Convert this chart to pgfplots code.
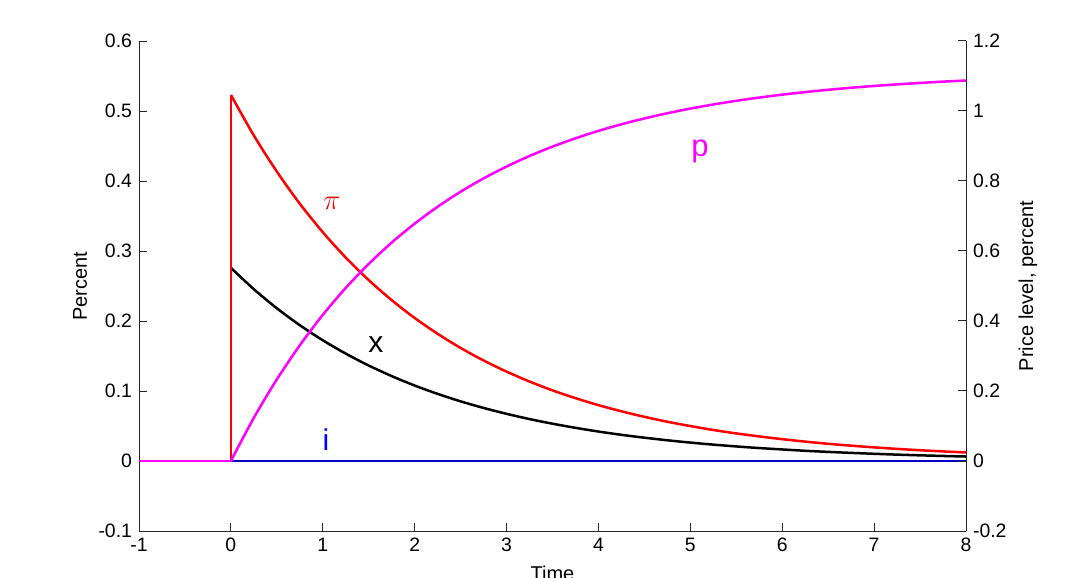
\documentclass[border=0pt]{standalone}
\usepackage{pgfplots}
\pgfplotsset{compat=1.18}
\usepackage{fontspec}
\setmainfont{Liberation Sans}
\definecolor{iblue}{rgb}{0,0,0.78}
\definecolor{mag}{rgb}{1,0,1}
\definecolor{pred}{rgb}{1,0,0}
\begin{document}
\begin{tikzpicture}
\path[use as bounding box] (-69.5pt,-23pt) rectangle (464.5pt,265.5pt);
\pgfplotsset{
  common/.style={
    at={(0,0)}, anchor=south west,
    scale only axis, width=413.5pt, height=245pt,
    xmin=-1, xmax=8,
    tick align=inside,
    major tick length=4pt,
    axis line style={-, draw=black!85, line width=0.5pt},
    every tick/.style={draw=black!85, line width=0.5pt},
    /pgf/number format/assume math mode=true,
    tick label style={font=\fontsize{9.7}{11}\selectfont},
    label style={font=\fontsize{11}{13}\selectfont},
  }
}
\begin{axis}[common,
  axis x line*=bottom, axis y line*=left,
  ymin=-0.1, ymax=0.6,
  xtick={-1,0,1,2,3,4,5,6,7,8},
  xticklabels={-1,0,1,2,3,4,5,6,7,8},
  ytick={-0.1,0,0.1,0.2,0.3,0.4,0.5,0.6},
  yticklabels={-0.1,0,0.1,0.2,0.3,0.4,0.5,0.6},
  xlabel={Time},
  ylabel={Percent},
  every axis x label/.style={at={(axis description cs:0.5,-0.0857)}, anchor=center},
  every axis y label/.style={at={(axis description cs:-0.0713,0.5)}, anchor=center, rotate=90},
]
% i
\addplot[iblue, line width=1.25pt] coordinates {(0,0) (8,0)};
% x
\addplot[black, line width=1.25pt] coordinates {(-1,0) (0,0) (0,0.276)};
\addplot[black, line width=1.25pt, smooth] coordinates {
(0,0.276) (0.25,0.2454) (0.5,0.2182) (0.75,0.1940) (1,0.1725)
(1.25,0.1534) (1.5,0.1364) (1.75,0.1213) (2,0.1078) (2.25,0.0959) (2.5,0.0852)
(2.75,0.0758) (3,0.0674) (3.25,0.0599) (3.5,0.0533) (3.75,0.0474) (4,0.0421)
(4.25,0.0374) (4.5,0.0333) (4.75,0.0296) (5,0.0263) (5.25,0.0234) (5.5,0.0208)
(5.75,0.0185) (6,0.0165) (6.25,0.0146) (6.5,0.0130) (6.75,0.0116) (7,0.0103)
(7.25,0.0091) (7.5,0.0081) (7.75,0.0072) (8,0.0064)};
% pi
\addplot[pred, line width=1.25pt] coordinates {(-1,0) (0,0) (0,0.523)};
\addplot[pred, line width=1.25pt, smooth] coordinates {
(0,0.523) (0.25,0.4650) (0.5,0.4135) (0.75,0.3676) (1,0.3269)
(1.25,0.2906) (1.5,0.2584) (1.75,0.2298) (2,0.2043) (2.25,0.1817) (2.5,0.1615)
(2.75,0.1436) (3,0.1277) (3.25,0.1135) (3.5,0.1009) (3.75,0.0898) (4,0.0798)
(4.25,0.0710) (4.5,0.0631) (4.75,0.0561) (5,0.0499) (5.25,0.0443) (5.5,0.0394)
(5.75,0.0351) (6,0.0312) (6.25,0.0277) (6.5,0.0246) (6.75,0.0219) (7,0.0195)
(7.25,0.0173) (7.5,0.0154) (7.75,0.0137) (8,0.0122)};
\node[pred, font=\fontsize{14}{16}\selectfont, inner sep=0pt, anchor=center] at (axis cs:1.10,0.3686) {$\pi$};
\node[black, font=\fontsize{15}{17}\selectfont, inner sep=0pt, anchor=center] at (axis cs:1.579,0.166) {x};
\node[blue, font=\fontsize{15}{17}\selectfont, inner sep=0pt, anchor=center] at (axis cs:1.035,0.030) {i};
\node[mag, font=\fontsize{15.5}{17}\selectfont, inner sep=0pt, anchor=center] at (axis cs:5.105,0.442) {p};
\end{axis}
\begin{axis}[common,
  axis x line=none, axis y line*=right,
  ymin=-0.2, ymax=1.2,
  ytick={-0.2,0,0.2,0.4,0.6,0.8,1,1.2},
  yticklabels={-0.2,0,0.2,0.4,0.6,0.8,1,1.2},
  ylabel={Price level, percent},
  every axis y label/.style={at={(axis description cs:1.075,0.5)}, anchor=center, rotate=90},
]
\addplot[mag, line width=1.25pt] coordinates {(-1,0) (0,0)};
\addplot[mag, line width=1.25pt, smooth] coordinates {
(0,0) (0.25,0.1235) (0.5,0.2331) (0.75,0.3306) (1,0.4174)
(1.25,0.4945) (1.5,0.5630) (1.75,0.6240) (2,0.6782) (2.25,0.7264) (2.5,0.7693)
(2.75,0.8074) (3,0.8413) (3.25,0.8714) (3.5,0.8982) (3.75,0.9220) (4,0.9432)
(4.25,0.9620) (4.5,0.9787) (4.75,0.9936) (5,1.0069) (5.25,1.0186) (5.5,1.0291)
(5.75,1.0384) (6,1.0467) (6.25,1.0540) (6.5,1.0606) (6.75,1.0664) (7,1.0715)
(7.25,1.0761) (7.5,1.0802) (7.75,1.0839) (8,1.0871)};
\end{axis}
\end{tikzpicture}
\end{document}
